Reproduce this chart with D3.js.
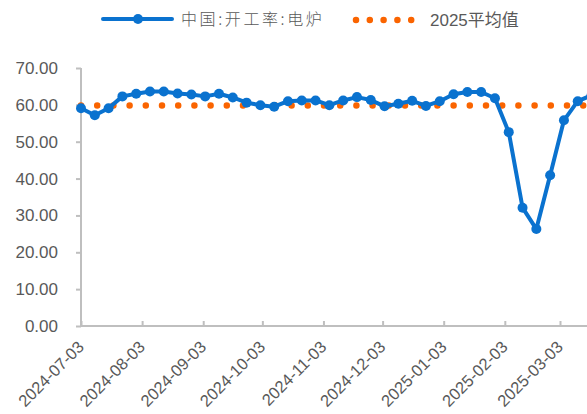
<!DOCTYPE html>
<meta charset="utf-8">
<style>
  body { margin: 0; background: #fff; }
  svg { display: block; }
  text { font-family: "Liberation Sans", Arial, "Noto Sans CJK SC", sans-serif; fill: #595959; }
  .axis path, .axis line { stroke: #bfbfbf; stroke-width: 2; }
</style>
<svg width="587" height="414"></svg>
<script src="https://d3js.org/d3.v7.min.js"></script>
<script>
// weekly dates, starting 2024-07-03
var dates = ["2024-07-03","2024-07-10","2024-07-17","2024-07-24","2024-07-31","2024-08-07","2024-08-14","2024-08-21","2024-08-28",
  "2024-09-04","2024-09-11","2024-09-18","2024-09-25","2024-10-02","2024-10-09","2024-10-16","2024-10-23","2024-10-30",
  "2024-11-06","2024-11-13","2024-11-20","2024-11-27","2024-12-04","2024-12-11","2024-12-18","2024-12-25",
  "2025-01-01","2025-01-08","2025-01-15","2025-01-22","2025-01-29","2025-02-05","2025-02-12","2025-02-19","2025-02-26",
  "2025-03-05","2025-03-12","2025-03-19"];
var eafRate = [59.1,57.2,59.1,62.3,63.0,63.6,63.6,63.1,62.8,
  62.3,63.0,62.0,60.6,59.9,59.5,61.0,61.2,61.2,
  59.9,61.2,62.1,61.3,59.6,60.3,61.1,59.7,
  61.0,62.9,63.5,63.5,61.8,52.6,32.1,26.3,40.9,
  55.8,61.0,62.6];
var avg2025 = 59.8;
var tickDates = ["2024-07-03","2024-08-03","2024-09-03","2024-10-03","2024-11-03","2024-12-03","2025-01-03","2025-02-03","2025-03-03"];
var yTicks = [0,10,20,30,40,50,60,70];
var seriesNames = ["中国:开工率:电炉", "2025平均值"];

var parse = d3.timeParse("%Y-%m-%d");
var data = dates.map(function(d, i) { return {date: parse(d), value: eafRate[i]}; });

var svg = d3.select("svg");
var blue = "#0a72cf", orange = "#fa6400";

// x scale: 2025-03-03 sits at x=560, so the last week runs past the right edge
var x = d3.scaleTime()
    .domain([parse("2024-07-03"), parse("2025-03-03")])
    .range([81, 560]);
var y = d3.scaleLinear().domain([0, 70]).range([326, 68]);

// y axis
var yAxis = svg.append("g")
    .attr("class", "axis")
    .attr("transform", "translate(81,0)")
    .call(d3.axisLeft(y).tickValues(yTicks).tickFormat(d3.format(".2f")).tickSize(5).tickPadding(18));
yAxis.select(".domain").attr("d", "M0," + y(70) + "V" + y(0));
yAxis.selectAll("text").attr("font-size", 17).style("font-family", "Liberation Sans, Arial, sans-serif").attr("fill", "#595959");

// x axis, ticks point up into the plot
var xAxis = svg.append("g")
    .attr("class", "axis")
    .attr("transform", "translate(0," + y(0) + ")")
    .call(d3.axisBottom(x).tickValues(tickDates.map(parse)).tickSize(-5).tickFormat(""));
xAxis.select(".domain").attr("d", "M81,0H587");

svg.append("g").selectAll("text")
  .data(tickDates)
  .enter().append("text")
    .attr("transform", function(d) { return "translate(" + (x(parse(d)) + 4) + ",348) rotate(-45)"; })
    .attr("text-anchor", "end")
    .attr("font-size", 16.5)
    .text(function(d) { return d; });

// average dotted line
svg.append("line")
    .attr("x1", x(data[0].date)).attr("x2", x(data[data.length - 1].date))
    .attr("y1", y(avg2025)).attr("y2", y(avg2025))
    .attr("stroke", orange).attr("stroke-width", 6.5)
    .attr("stroke-linecap", "round")
    .attr("stroke-dasharray", "0 16.2");

// main series
var line = d3.line().x(function(d) { return x(d.date); }).y(function(d) { return y(d.value); });
svg.append("path")
    .datum(data)
    .attr("fill", "none")
    .attr("stroke", blue)
    .attr("stroke-width", 4)
    .attr("stroke-linejoin", "round")
    .attr("d", line);

svg.append("g").selectAll("circle")
  .data(data)
  .enter().append("circle")
    .attr("cx", function(d) { return x(d.date); })
    .attr("cy", function(d) { return y(d.value); })
    .attr("r", 5)
    .attr("fill", blue);

// legend
var lg = svg.append("g");
lg.append("line").attr("x1", 103).attr("x2", 172).attr("y1", 19).attr("y2", 19)
    .attr("stroke", blue).attr("stroke-width", 4).attr("stroke-linecap", "round");
lg.append("circle").attr("cx", 138).attr("cy", 19).attr("r", 5).attr("fill", blue);
lg.append("text").attr("x", 181).attr("y", 25).attr("font-size", 16)
    .style("font-family", "'Noto Sans CJK SC', sans-serif").attr("font-weight", 300)
    .attr("letter-spacing", 2.6)
    .text(seriesNames[0]);
lg.append("line").attr("x1", 356).attr("x2", 412).attr("y1", 20).attr("y2", 20)
    .attr("stroke", orange).attr("stroke-width", 6.5)
    .attr("stroke-linecap", "round").attr("stroke-dasharray", "0 13.8");
lg.append("text").attr("x", 430).attr("y", 26).attr("font-size", 17)
    .text(seriesNames[1]);
</script>
